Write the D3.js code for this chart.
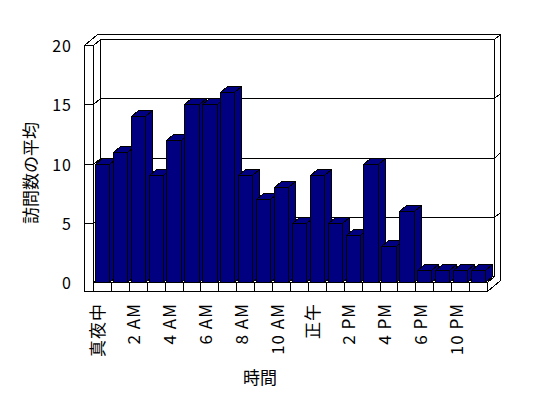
<!DOCTYPE html>
<html>
<head>
<meta charset="utf-8">
<script src="https://cdn.jsdelivr.net/npm/d3@7"></script>
<style>
  body { margin: 0; background: #fff; }
  svg text { font-family: "Noto Sans CJK JP", "DejaVu Sans", sans-serif; fill: #000; }
</style>
</head>
<body>
<svg id="chart" width="548" height="398"></svg>
<script>
// hours shown in the chart (8 PM and 9 PM are absent in the source data)
var hours = ["真夜中", "1 AM", "2 AM", "3 AM", "4 AM", "5 AM", "6 AM", "7 AM", "8 AM", "9 AM",
             "10 AM", "11 AM", "正午", "1 PM", "2 PM", "3 PM", "4 PM", "5 PM", "6 PM", "7 PM",
             "10 PM", "11 PM"];
var visits = [10, 11, 14, 9, 12, 15, 15, 16, 9, 7, 8, 5, 9, 5, 4, 10, 3, 6, 1, 1, 1, 1];
var yTicks = [0, 5, 10, 15, 20];

var svg = d3.select("#chart");

// front plane scales
var x = d3.scaleBand()
    .domain(hours)
    .range([93, 487])
    .paddingInner(0.2)
    .paddingOuter(0.1);

var y = d3.scaleLinear()
    .domain([0, 20])
    .range([282, 45]);

// depth projection: z=0 front, z=1 back wall inner face, z=1.85 back wall outer face
function p(X, Y, z) { return [Math.round(X + 7 * z) + 0.5, Math.round(Y - 6 * z) + 0.5]; }
function poly(pts) { return pts.map(function(d) { return d.join(","); }).join(" "); }

var xl = 93, xr = 487, xo = 84, yTop = y(20), yFloor = y(0), yBot = 291, zo = 1.85;

var walls = svg.append("g")
    .attr("fill", "#fff")
    .attr("stroke", "#000")
    .attr("stroke-width", 1)
    .attr("shape-rendering", "crispEdges");

// top face of the L shaped wall
walls.append("polygon").attr("points", poly([
  p(xo, yTop, 0), p(xl, yTop, 0), p(xl, yTop, 1), p(xr, yTop, 1), p(xr, yTop, zo), p(xo, yTop, zo)
]));
// inner face of left wall
walls.append("polygon").attr("points", poly([
  p(xl, yTop, 0), p(xl, yTop, 1), p(xl, yFloor, 1), p(xl, yFloor, 0)
]));
// inner face of back wall
walls.append("polygon").attr("points", poly([
  p(xl, yTop, 1), p(xr, yTop, 1), p(xr, yFloor, 1), p(xl, yFloor, 1)
]));
// right end face of back wall + floor
walls.append("polygon").attr("points", poly([
  p(xr, yFloor, 0), p(xr, yBot, 0), p(xr, yBot, zo), p(xr, yTop, zo), p(xr, yTop, 1), p(xr, yFloor, 1)
]));
// floor top
walls.append("polygon").attr("points", poly([
  p(xl, yFloor, 0), p(xr, yFloor, 0), p(xr, yFloor, 1), p(xl, yFloor, 1)
]));
// floor front face
walls.append("polygon").attr("points", poly([
  p(xo, yFloor, 0), p(xr, yFloor, 0), p(xr, yBot, 0), p(xo, yBot, 0)
]));
// left wall front face
walls.append("polygon").attr("points", poly([
  p(xo, yTop, 0), p(xl, yTop, 0), p(xl, yBot, 0), p(xo, yBot, 0)
]));

// gridlines wrapping the walls
var line = d3.line();
svg.append("g")
  .attr("shape-rendering", "crispEdges")
  .selectAll("path")
  .data(yTicks.slice(1))
  .enter()
  .append("path")
    .attr("fill", "none")
    .attr("stroke", "#000")
    .attr("d", function(v) {
      var Y = y(v);
      return line([p(xo, Y, 0), p(xl, Y, 0), p(xl, Y, 1), p(xr, Y, 1), p(xr, Y, zo)]);
    });

// category ticks on the floor front face
svg.append("g")
  .attr("shape-rendering", "crispEdges")
  .selectAll("line")
  .data(hours.slice(1))
  .enter()
  .append("line")
    .attr("stroke", "#000")
    .attr("x1", function(d) { return Math.round(x(d) - x.step() * x.paddingInner() / 2) + 0.5; })
    .attr("x2", function(d) { return Math.round(x(d) - x.step() * x.paddingInner() / 2) + 0.5; })
    .attr("y1", Math.round(yFloor) + 0.5)
    .attr("y2", yBot + 0.5);

// bars
var bars = svg.append("g")
  .attr("shape-rendering", "crispEdges")
  .selectAll(".bar")
  .data(visits)
  .enter()
  .append("g")
    .classed("bar", true)
    .attr("fill", "#000080")
    .attr("stroke", "#000");

bars.each(function(v, i) {
  var g = d3.select(this);
  var X0 = x(hours[i]), X1 = X0 + x.bandwidth(), Y = y(v);
  g.append("polygon").attr("points", poly([p(X1, Y, 0), p(X1, yFloor, 0), p(X1, yFloor, 1), p(X1, Y, 1)]));
  g.append("polygon").attr("points", poly([p(X0, Y, 0), p(X1, Y, 0), p(X1, Y, 1), p(X0, Y, 1)]));
  g.append("polygon").attr("points", poly([p(X0, Y, 0), p(X1, Y, 0), p(X1, yFloor, 0), p(X0, yFloor, 0)]));
});

// y tick labels
svg.append("g")
  .selectAll("text")
  .data(yTicks)
  .enter()
  .append("text")
    .attr("x", 72)
    .attr("y", function(d) { return y(d); })
    .attr("text-anchor", "end")
    .attr("dominant-baseline", "central")
    .attr("font-size", 16)
    .attr("letter-spacing", 1)
    .text(function(d) { return d; });

// x tick labels, every other hour
svg.append("g")
  .selectAll("text")
  .data(hours.filter(function(d, i) { return i % 2 === 0; }))
  .enter()
  .append("text")
    .attr("transform", function(d) {
      return "translate(" + (x(d) + x.bandwidth() / 2 - 5) + ",303) rotate(-90)";
    })
    .attr("text-anchor", "end")
    .attr("dominant-baseline", "central")
    .attr("font-size", 17)
    .attr("letter-spacing", 1)
    .text(function(d) { return d; });

// axis titles
svg.append("text")
    .attr("transform", "translate(29,173) rotate(-90)")
    .attr("text-anchor", "middle")
    .attr("dominant-baseline", "central")
    .attr("font-size", 17)
    .text("訪問数の平均");

svg.append("text")
    .attr("x", 260)
    .attr("y", 376)
    .attr("text-anchor", "middle")
    .attr("dominant-baseline", "central")
    .attr("font-size", 17)
    .text("時間");
</script>
</body>
</html>
